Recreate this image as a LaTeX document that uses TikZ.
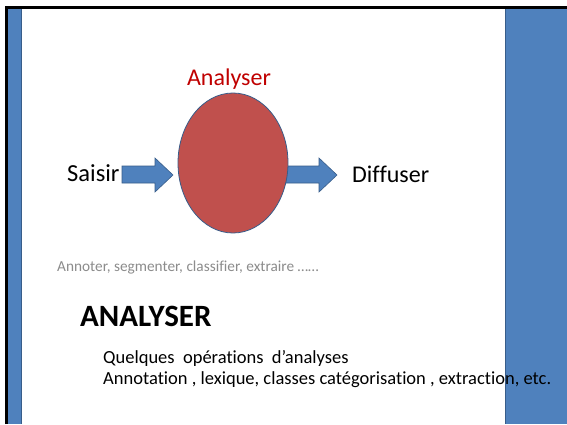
\documentclass[tikz,border=0pt]{standalone}
\usepackage{fontspec}
\setmainfont{Carlito}[Ligatures=NoCommon]
\usetikzlibrary{shapes.geometric}
\definecolor{slideblue}{HTML}{4F81BD}
\definecolor{slideedge}{HTML}{385D8A}
\definecolor{ovalred}{HTML}{C0504D}
\definecolor{titlered}{HTML}{C00000}
\definecolor{notegray}{HTML}{8C8C8C}
\begin{document}
\begin{tikzpicture}[x=1pt,y=1pt]
			\tikzstyle{every node}+=[inner sep=0pt]
			\tikzstyle{blockarrow}=[fill=slideblue, draw=slideedge, line width=0.6]
			\useasboundingbox (0,0) rectangle (567,-424);
			\fill [white] (0,0) rectangle (567,-424);
			\fill [slideblue] (8,-9) rectangle (21,-424);
			\draw [slideedge] (21,-9) -- (21,-424);
			\fill [slideblue] (505,-9) rectangle (567,-424);
			\draw [slideedge] (505,-9) -- (505,-424);
			\draw [black, line width=3] (6.5,-424) -- (6.5,-7.5) -- (567,-7.5);
			\draw [blockarrow] (122,-166) -- (155,-166) -- (155,-158) -- (173,-175) -- (155,-192) -- (155,-183) -- (122,-183) -- cycle;
			\draw [blockarrow] (285,-166) -- (319,-166) -- (319,-158) -- (337,-175) -- (319,-192) -- (319,-183) -- (285,-183) -- cycle;
			\node [ellipse, draw=slideedge, fill=ovalred, line width=0.8, minimum width=110, minimum height=140] (oval) at (233,-163) {};
			\node [anchor=base, text=titlered, font=\fontsize{24}{28}\selectfont] (analyser) at (229,-85) {Analyser};
			\node [anchor=base west, font=\fontsize{24.5}{28}\selectfont] (saisir) at (67,-181) {Saisir};
			\node [anchor=base west, font=\fontsize{24}{28}\selectfont] (diffuser) at (352,-182) {Diffuser};
			\node [anchor=base west, text=notegray, font=\fontsize{15.3}{17}\selectfont] (note) at (57,-271) {Annoter, segmenter, classifier, extraire ……};
			\node [anchor=base west, font=\fontsize{31}{36}\selectfont\bfseries] (title) at (80,-326) {ANALYSER};
			\node [anchor=base west, font=\fontsize{18.5}{22}\selectfont] (ops) at (103,-363) {Quelques\ \ opérations\ \ d’analyses};
			\node [anchor=base west, font=\fontsize{18.5}{22}\selectfont] (list) at (103,-384) {Annotation , lexique, classes catégorisation , extraction, etc.};
\end{tikzpicture}
\end{document}
